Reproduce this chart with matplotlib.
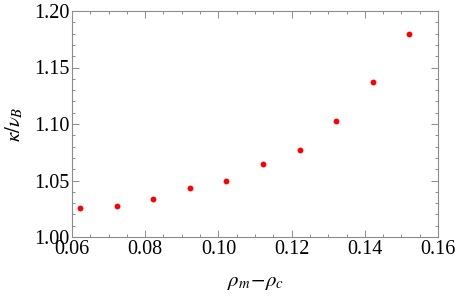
import matplotlib
matplotlib.use("Agg")
from matplotlib import pyplot as plt
from matplotlib.ticker import MultipleLocator, FormatStrFormatter

# data
rho_diff = [0.0622, 0.0722, 0.0822, 0.0922, 0.1022, 0.1122, 0.1222, 0.1322, 0.1422, 0.1522]
kappa_ratio = [1.0260, 1.0273, 1.0336, 1.0434, 1.0499, 1.0649, 1.0773, 1.1027, 1.1372, 1.1796]

plt.rcParams['font.family'] = ['Liberation Serif', 'DejaVu Serif']
plt.rcParams['mathtext.fontset'] = 'stix'

fig = plt.figure(figsize=(4.57, 2.96), dpi=100)
ax = fig.add_axes([72 / 457, 1 - 237 / 296, (438 - 72) / 457, (237 - 11) / 296])

ax.plot(rho_diff, kappa_ratio, 'o', color='#ff0000', markersize=4.2, markeredgewidth=0)

ax.set_xlim(0.06, 0.16)
ax.set_ylim(1.0, 1.2)
ax.xaxis.set_major_locator(MultipleLocator(0.02))
ax.xaxis.set_minor_locator(MultipleLocator(0.005))
ax.yaxis.set_major_locator(MultipleLocator(0.05))
ax.yaxis.set_minor_locator(MultipleLocator(0.01))
ax.xaxis.set_major_formatter(FormatStrFormatter('%.2f'))
ax.yaxis.set_major_formatter(FormatStrFormatter('%.2f'))

gray = '#8c8c8c'
for s in ax.spines.values():
    s.set_color(gray)
    s.set_linewidth(0.8)
ax.tick_params(which='both', direction='in', top=True, right=True, color=gray,
               labelsize=14.5, labelcolor='black', width=0.7)
ax.tick_params(which='major', length=5, pad=2)
ax.tick_params(which='minor', length=2.5)

ax.set_xlabel(r'$\rho_m\!-\!\rho_c$', fontsize=15, labelpad=10)
ax.set_ylabel(r'$\kappa/\nu_B$', fontsize=15, labelpad=6)

fig.savefig('out.png', dpi=100)
